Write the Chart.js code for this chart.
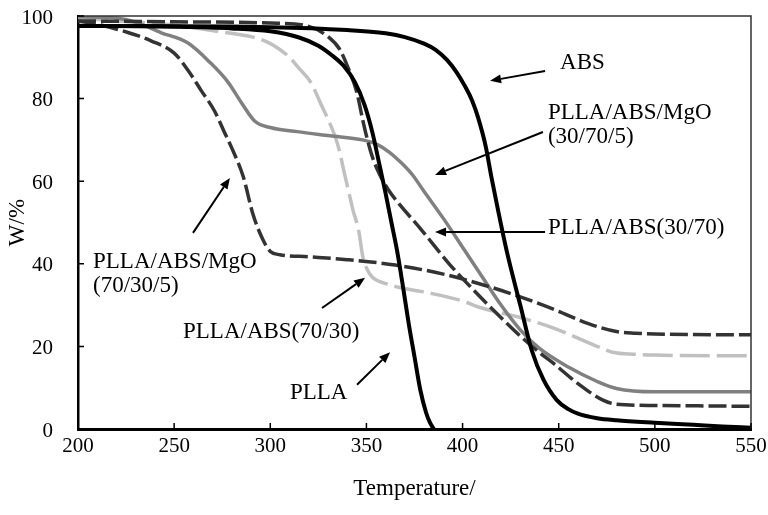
<!DOCTYPE html>
<html>
<head>
<meta charset="utf-8">
<script src="https://cdn.jsdelivr.net/npm/chart.js@4/dist/chart.umd.min.js"></script>
<style>
html,body{margin:0;padding:0;background:#fff;}
canvas{display:block;}
</style>
</head>
<body>
<canvas id="c" width="768" height="515"></canvas>
<script>
// ---- data (temperature °C, weight %) ----
const pllaT = [200, 250, 280, 300, 315, 325, 332, 338, 344, 349, 353, 357, 360, 363, 366, 369, 372, 375, 378, 381, 383, 385];
const pllaW = [97.6, 97.4, 97.0, 96.3, 94.8, 92.8, 90.5, 88.0, 84.0, 78.5, 72.0, 63.5, 57.0, 50.0, 43.0, 34.5, 25.5, 17.5, 9.5, 4.0, 1.6, 0];

const absT = [200, 300, 340, 360, 370, 380, 386, 392, 397, 401, 405, 408, 412, 415, 418, 423, 430, 436, 442, 449, 455, 460, 470, 480, 500, 520, 535, 550];
const absW = [97.6, 97.3, 96.6, 95.8, 94.9, 93.3, 91.8, 89.3, 86.3, 83.2, 79.5, 75.5, 68.5, 61.0, 54.0, 43.0, 30.0, 19.0, 12.0, 7.0, 4.8, 3.7, 2.6, 2.1, 1.5, 1.0, 0.6, 0.3];

const mgo70T = [200, 210, 226, 238, 250, 257, 264, 271, 276, 280, 286, 291, 296, 300, 305, 320, 340, 365, 390, 410, 430, 450, 460, 470, 480, 490, 500, 550];
const mgo70W = [98.8, 98.0, 96.0, 94.0, 91.0, 87.0, 82.0, 77.0, 72.0, 68.0, 61.0, 52.0, 46.0, 43.0, 42.2, 41.7, 41.0, 39.7, 37.5, 35.0, 32.0, 28.5, 26.5, 24.8, 23.6, 23.2, 23.0, 22.8];

const blend70T = [200, 230, 250, 274, 290, 298, 304, 310, 315, 321, 327, 331, 335, 339, 341, 343, 346, 348, 350, 353, 360, 366, 383, 400, 410, 430, 447, 460, 470, 478, 490, 500, 550];
const blend70W = [99.5, 98.5, 97.8, 96.2, 95.0, 93.8, 92.2, 90.0, 87.3, 84.0, 78.0, 74.0, 69.0, 61.0, 57.0, 53.0, 48.0, 42.0, 39.0, 36.8, 35.2, 34.4, 32.9, 31.0, 29.3, 27.0, 24.5, 22.0, 20.0, 18.6, 18.1, 17.9, 17.7];

const mgo30T = [200, 220, 230, 243, 257, 269, 278, 285, 292, 300, 314, 331, 348, 356, 362, 368, 374, 380, 390, 400, 410, 420, 430, 440, 455, 470, 480, 500, 550];
const mgo30W = [99.8, 99.5, 98.5, 96.0, 93.5, 88.6, 84.0, 79.0, 74.5, 73.0, 72.0, 71.0, 70.0, 68.8, 67.0, 64.5, 61.5, 57.5, 51.0, 44.0, 37.0, 30.0, 24.0, 19.5, 15.0, 11.5, 9.8, 9.0, 9.0];

const blend30T = [200, 250, 300, 320, 330, 336, 340, 345, 348, 350, 353, 357, 362, 367, 379, 393, 405, 421, 430, 440, 447, 460, 473, 480, 500, 550];
const blend30W = [98.8, 98.6, 98.3, 97.5, 95.0, 92.0, 88.0, 81.5, 75.0, 71.0, 66.0, 61.5, 57.5, 54.5, 48.0, 40.0, 34.0, 26.5, 22.5, 18.5, 16.0, 11.0, 7.0, 6.0, 5.7, 5.5];

const xTicks = [200, 250, 300, 350, 400, 450, 500, 550];
const yTicks = [0, 20, 40, 60, 80, 100];

// ---- annotations (data coordinates) ----
const notes = [
  { lines: ['ABS'], at: [450.7, 88.6], arrow: [442.9, 86.7, 414.3, 84.3] },
  { lines: ['PLLA/ABS/MgO', '(30/70/5)'], at: [444.4, 76.5], arrow: [441.8, 71.9, 385.7, 61.5] },
  { lines: ['PLLA/ABS(30/70)'], at: [444.4, 48.7], arrow: [442.9, 47.7, 385.7, 47.7] },
  { lines: ['PLLA/ABS/MgO', '(70/30/5)'], at: [207.8, 40.4], arrow: [259.8, 47.5, 279.0, 60.8] },
  { lines: ['PLLA/ABS(70/30)'], at: [254.6, 23.5], arrow: [326.9, 29.3, 349.3, 36.6] },
  { lines: ['PLLA'], at: [310.2, 8.7], arrow: [345.1, 10.7, 362.3, 18.6] }
];

const FONT = '"Liberation Serif", "Times New Roman", serif';

function pts(t, w) { return t.map((v, i) => ({ x: v, y: w[i] })); }

function ds(label, t, w, color, width, dash) {
  return {
    label, data: pts(t, w), borderColor: color, borderWidth: width,
    borderDash: dash || [], pointRadius: 0, fill: false,
    cubicInterpolationMode: 'monotone', borderCapStyle: 'butt', borderJoinStyle: 'round'
  };
}

const datasets = [
  ds('PLLA', pllaT, pllaW, '#000000', 4),
  ds('ABS', absT, absW, '#000000', 4),
  ds('PLLA/ABS(30/70)', blend30T, blend30W, '#333333', 3.5, [18, 5]),
  ds('PLLA/ABS/MgO(70/30/5)', mgo70T, mgo70W, '#333333', 3.5, [18, 5]),
  ds('PLLA/ABS/MgO(30/70/5)', mgo30T, mgo30W, '#808080', 3.5),
  ds('PLLA/ABS(70/30)', blend70T, blend70W, '#c0c0c0', 3.5, [30, 7])
];

const framePlugin = {
  id: 'frame',
  afterDraw(chart) {
    const { ctx, chartArea: a, scales: { x, y } } = chart;
    ctx.save();
    ctx.strokeStyle = '#333';
    ctx.lineWidth = 1.5;
    ctx.beginPath();
    ctx.moveTo(a.left, a.top);
    ctx.lineTo(a.right, a.top);
    ctx.lineTo(a.right, a.bottom);
    ctx.stroke();
    ctx.strokeStyle = '#000';
    ctx.lineWidth = 1.5;
    ctx.beginPath();
    xTicks.forEach(v => {
      const px = x.getPixelForValue(v);
      ctx.moveTo(px, a.bottom);
      ctx.lineTo(px, a.bottom - 6);
    });
    yTicks.forEach(v => {
      const py = y.getPixelForValue(v);
      ctx.moveTo(a.left, py);
      ctx.lineTo(a.left + 6, py);
    });
    ctx.stroke();
    ctx.fillStyle = '#000';
    ctx.font = '23px ' + FONT;
    ctx.textAlign = 'left';
    ctx.textBaseline = 'middle';
    notes.forEach(n => {
      const tx = x.getPixelForValue(n.at[0]);
      const ty = y.getPixelForValue(n.at[1]);
      n.lines.forEach((s, i) => ctx.fillText(s, tx, ty + i * 24));
      const x1 = x.getPixelForValue(n.arrow[0]), y1 = y.getPixelForValue(n.arrow[1]);
      const x2 = x.getPixelForValue(n.arrow[2]), y2 = y.getPixelForValue(n.arrow[3]);
      const ang = Math.atan2(y2 - y1, x2 - x1);
      const hl = 11, hw = 4.5;
      const bx = x2 - hl * Math.cos(ang), by = y2 - hl * Math.sin(ang);
      ctx.strokeStyle = '#000';
      ctx.lineWidth = 2;
      ctx.beginPath();
      ctx.moveTo(x1, y1);
      ctx.lineTo(bx, by);
      ctx.stroke();
      ctx.beginPath();
      ctx.moveTo(x2, y2);
      ctx.lineTo(bx + hw * Math.sin(ang), by - hw * Math.cos(ang));
      ctx.lineTo(bx - hw * Math.sin(ang), by + hw * Math.cos(ang));
      ctx.closePath();
      ctx.fill();
    });
    ctx.restore();
  }
};

new Chart(document.getElementById('c').getContext('2d'), {
  type: 'line',
  data: { datasets },
  options: {
    responsive: false,
    animation: false,
    devicePixelRatio: 1,
    layout: { padding: { left: 4, right: 17, top: 16, bottom: 12 } },
    plugins: { legend: { display: false }, tooltip: { enabled: false } },
    scales: {
      x: {
        type: 'linear', min: 200, max: 550,
        afterBuildTicks(s) { s.ticks = xTicks.map(v => ({ value: v })); },
        ticks: { color: '#000', font: { family: FONT, size: 21 }, padding: 5, maxRotation: 0 },
        grid: { display: false, drawTicks: false },
        border: { color: '#000', width: 3 },
        title: { display: true, text: 'Temperature/', color: '#000', font: { family: FONT, size: 23 }, padding: 0 },
        afterFit(s) { s.height = 74; s.paddingLeft = 10; s.paddingRight = 10; }
      },
      y: {
        type: 'linear', min: 0, max: 100,
        afterBuildTicks(s) { s.ticks = yTicks.map(v => ({ value: v })); },
        ticks: { color: '#000', font: { family: FONT, size: 21 }, padding: 25, labelOffset: 2 },
        grid: { display: false, drawTicks: false },
        border: { color: '#000', width: 2.5 },
        title: { display: true, text: 'W/%', color: '#000', font: { family: FONT, size: 23 }, padding: 0 },
        afterFit(s) { s.width = 74; s.paddingTop = 10; s.paddingBottom = 10; }
      }
    }
  },
  plugins: [framePlugin]
});
</script>
</body>
</html>
